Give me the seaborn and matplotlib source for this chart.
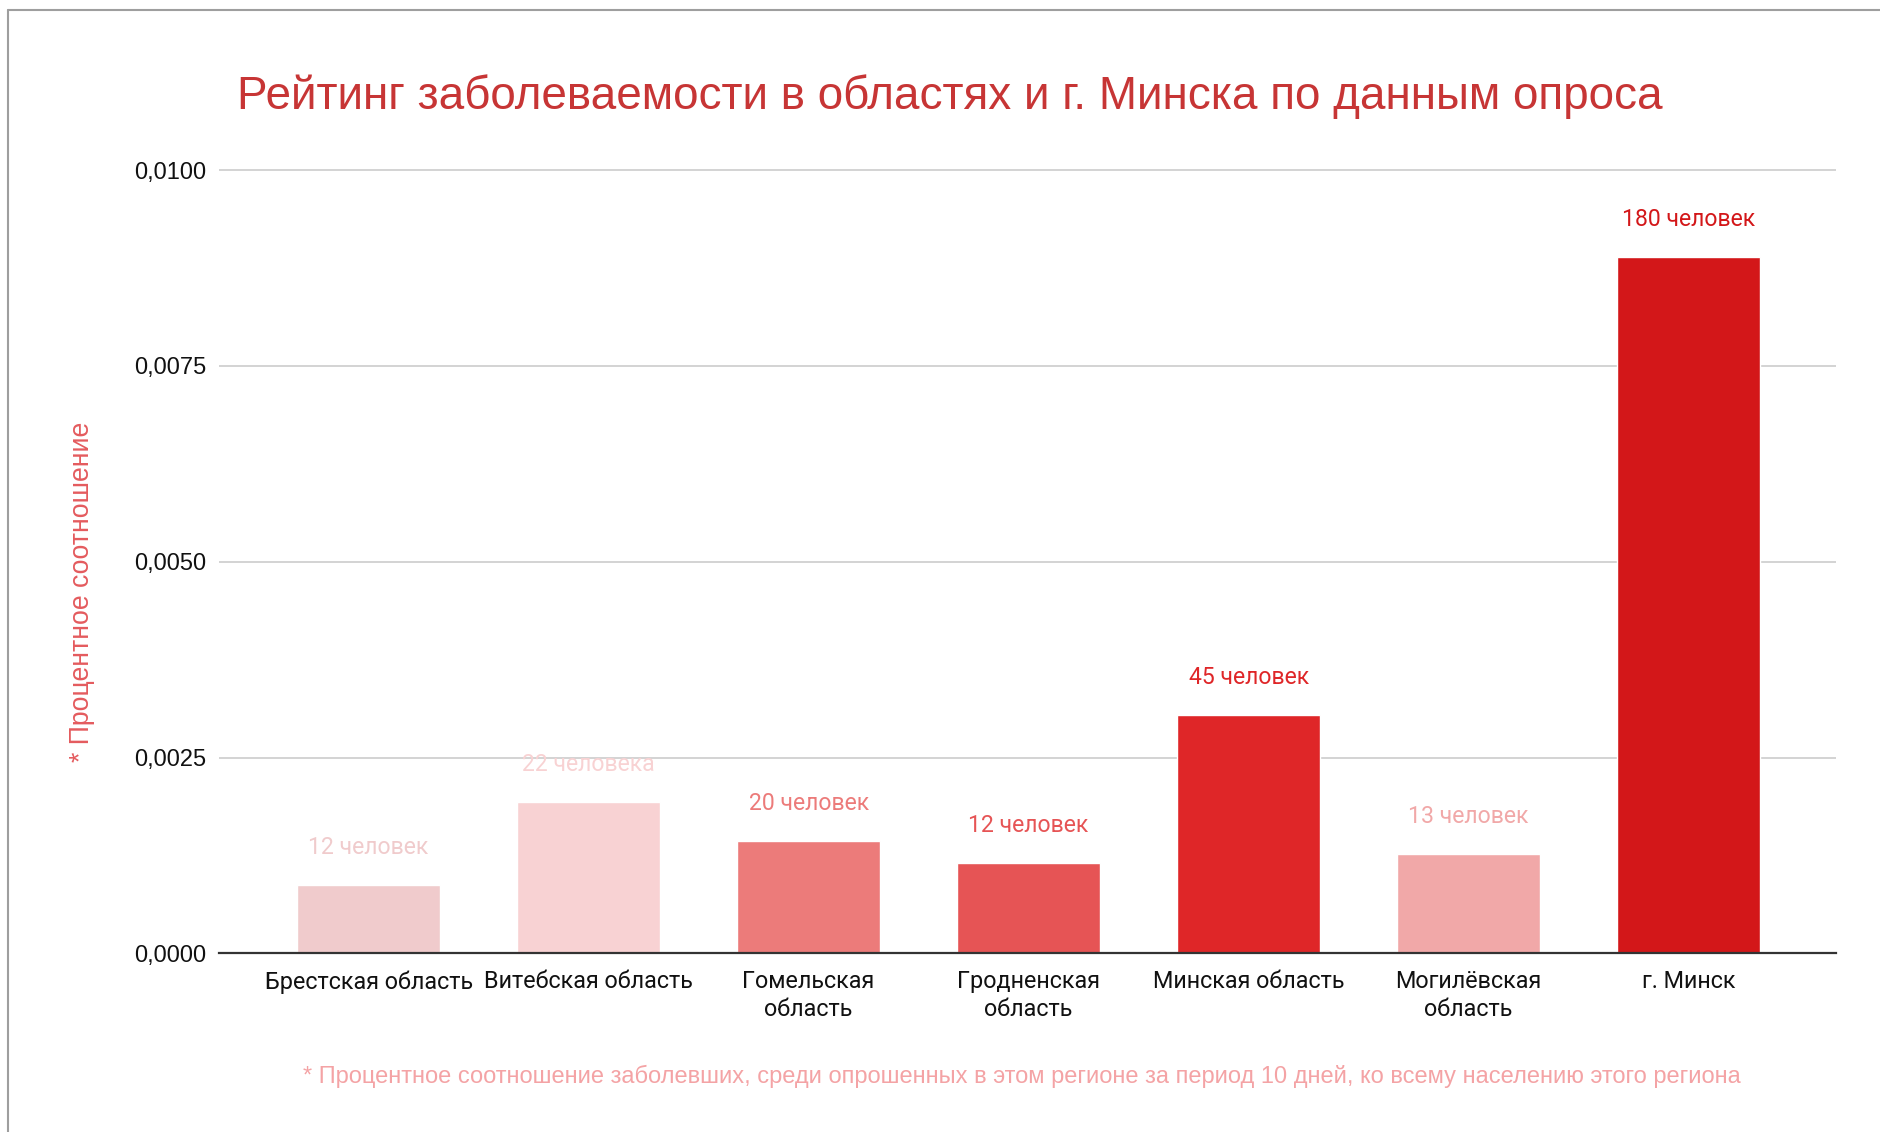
import matplotlib
matplotlib.use("Agg")
import matplotlib.pyplot as plt
import seaborn as sns
import pandas as pd
from matplotlib.ticker import FuncFormatter, MultipleLocator
from matplotlib.lines import Line2D

# Data
regions = [
    "Брестская область",
    "Витебская область",
    "Гомельская\nобласть",
    "Гродненская\nобласть",
    "Минская область",
    "Могилёвская\nобласть",
    "г. Минск",
]
ratios = [0.00088, 0.00193, 0.00144, 0.00115, 0.00304, 0.00127, 0.00889]
people_labels = [
    "12 человек",
    "22 человека",
    "20 человек",
    "12 человек",
    "45 человек",
    "13 человек",
    "180 человек",
]
bar_colors = ["#f0cbcc", "#f8d2d3", "#ec7b7a", "#e65455", "#df2628", "#f1a8a8", "#d31719"]

title = "Рейтинг заболеваемости в областях и г. Минска по данным опроса"
y_label = "* Процентное соотношение"
footnote = ("* Процентное соотношение заболевших, среди опрошенных в этом регионе "
            "за период 10 дней, ко всему населению этого региона")

df = pd.DataFrame({"region": regions, "ratio": ratios})

sns.set_theme(style="white")
plt.rcParams["font.family"] = ["Liberation Sans", "DejaVu Sans"]

fig = plt.figure(figsize=(18.8, 11.32), dpi=100)
ax = fig.add_axes([0.1165, 0.1577, 0.8601, 0.7059])

sns.barplot(data=df, x="region", y="ratio", hue="region",
            palette=dict(zip(regions, bar_colors)), legend=False,
            width=0.65, saturation=1, ax=ax)

# value labels above each bar, coloured like the bar
for i, (val, lab, col) in enumerate(zip(ratios, people_labels, bar_colors)):
    ax.annotate(lab, xy=(i, val), xytext=(0, 27), textcoords="offset points",
                ha="center", va="center", color=col, fontsize=16.6,
                family=["Roboto", "DejaVu Sans"])

ax.set_xlim(-0.68, 6.67)
ax.set_ylim(0, 0.0102)
ax.yaxis.set_major_locator(MultipleLocator(0.0025))
ax.yaxis.set_major_formatter(FuncFormatter(lambda v, p: f"{v:.4f}".replace(".", ",")))
ax.grid(axis="y", color="#cccccc", linewidth=1.2)
ax.set_axisbelow(True)

for side in ["top", "right", "left"]:
    ax.spines[side].set_visible(False)
ax.spines["bottom"].set_color("#333333")
ax.spines["bottom"].set_linewidth(1.6)

ax.tick_params(axis="y", length=0, pad=9, labelsize=17, labelcolor="#111111")
ax.tick_params(axis="x", length=0, pad=12, labelsize=16.8, labelcolor="#111111")
for t in ax.get_xticklabels():
    t.set_family(["Roboto", "DejaVu Sans"])
    t.set_linespacing(1.28)

ax.set_xlabel("")
ax.set_ylabel("")

fig.text(0.5053, 0.9145, title, ha="center", va="center",
         fontsize=33, color="#c73535")
fig.text(0.0436, 0.477, y_label, rotation=90, ha="center", va="center",
         fontsize=19.2, color="#e45b5e")
fig.text(0.5436, 1 - 1076 / 1132, footnote, ha="center", va="center",
         fontsize=17, color="#f4a3a5")

# grey frame of the chart card (left and top edges)
fig.add_artist(Line2D([8 / 1880, 8 / 1880], [0, 1 - 10 / 1132],
                      transform=fig.transFigure, color="#9e9e9e", linewidth=1.5))
fig.add_artist(Line2D([8 / 1880, 1], [1 - 10 / 1132, 1 - 10 / 1132],
                      transform=fig.transFigure, color="#9e9e9e", linewidth=1.5))

fig.savefig("out.png", dpi=100, facecolor="white")
